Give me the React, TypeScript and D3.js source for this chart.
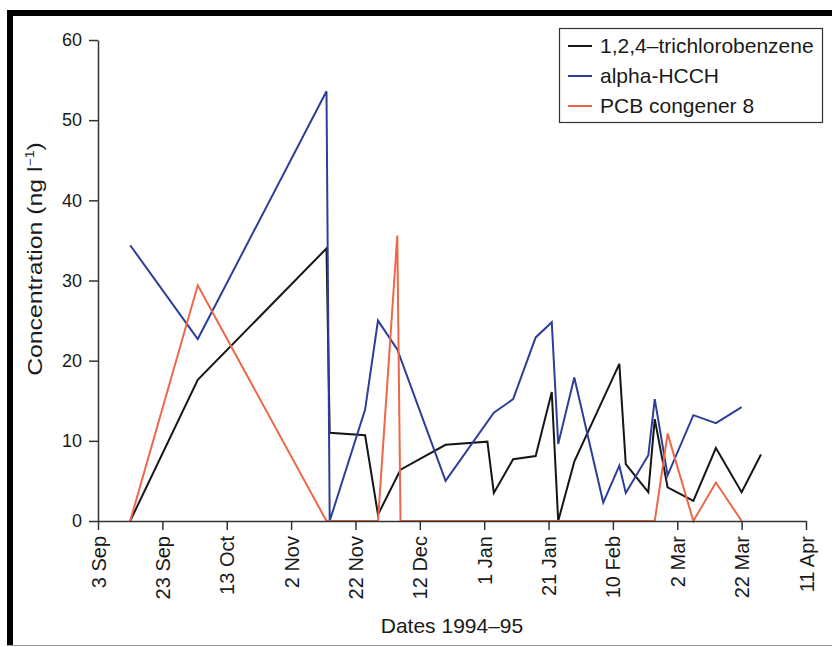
import React, { useRef, useEffect } from 'react';
import * as d3 from 'd3';

// ---------------------------------------------------------
// data: [sampling date, concentration ng/l]
// ---------------------------------------------------------
const trichlorobenzene: [string, number][] = [
  ['1994-09-13', 0], ['1994-10-04', 17.6], ['1994-11-13', 34.0], ['1994-11-14', 11.0],
  ['1994-11-25', 10.7], ['1994-11-29', 0.8], ['1994-12-06', 6.4], ['1994-12-20', 9.5],
  ['1995-01-02', 9.9], ['1995-01-04', 3.5], ['1995-01-10', 7.7], ['1995-01-17', 8.1],
  ['1995-01-22', 16.1], ['1995-01-24', 0], ['1995-01-29', 7.4], ['1995-02-12', 19.6],
  ['1995-02-14', 7.1], ['1995-02-21', 3.6], ['1995-02-23', 12.7], ['1995-02-27', 4.2],
  ['1995-03-07', 2.5], ['1995-03-14', 9.1], ['1995-03-22', 3.6], ['1995-03-28', 8.3],
];

const alphaHCCH: [string, number][] = [
  ['1994-09-13', 34.4], ['1994-10-04', 22.7], ['1994-11-13', 53.6], ['1994-11-14', 0],
  ['1994-11-25', 13.9], ['1994-11-29', 25.0], ['1994-12-05', 21.4], ['1994-12-20', 5.0],
  ['1995-01-04', 13.5], ['1995-01-10', 15.2], ['1995-01-17', 22.9], ['1995-01-22', 24.8],
  ['1995-01-24', 9.6], ['1995-01-29', 17.9], ['1995-02-07', 2.3], ['1995-02-12', 6.9],
  ['1995-02-14', 3.5], ['1995-02-21', 8.2], ['1995-02-23', 15.2], ['1995-02-27', 5.7],
  ['1995-03-07', 13.2], ['1995-03-14', 12.2], ['1995-03-22', 14.2],
];

const pcbCongener8: [string, number][] = [
  ['1994-09-13', 0], ['1994-10-04', 29.4], ['1994-11-13', 0], ['1994-11-14', 0],
  ['1994-11-25', 0], ['1994-11-29', 0], ['1994-12-05', 35.6], ['1994-12-06', 0],
  ['1994-12-20', 0], ['1995-01-04', 0], ['1995-01-24', 0], ['1995-02-14', 0],
  ['1995-02-23', 0], ['1995-02-27', 10.9], ['1995-03-07', 0], ['1995-03-14', 4.8],
  ['1995-03-22', 0],
];

const seriesNames = ['1,2,4\u2013trichlorobenzene', 'alpha-HCCH', 'PCB congener 8'];
const yTicks = [0, 10, 20, 30, 40, 50, 60];
const xTickDates = [
  '1994-09-03', '1994-09-23', '1994-10-13', '1994-11-02', '1994-11-22', '1994-12-12',
  '1995-01-01', '1995-01-21', '1995-02-10', '1995-03-02', '1995-03-22', '1995-04-11',
];

const colors = ['#161616', '#2c3f98', '#ee6748'];
const FONT = '"Liberation Sans", Arial, Helvetica, sans-serif';

function App() {
  const xAxisRef = useRef<SVGGElement>(null);
  const yAxisRef = useRef<SVGGElement>(null);

  const parse = d3.utcParse('%Y-%m-%d');
  const fmt = d3.utcFormat('%-d %b');

  const x = d3.scaleUtc()
    .domain([parse(xTickDates[0])!, parse(xTickDates[xTickDates.length - 1])!])
    .range([98, 806]);
  const y = d3.scaleLinear().domain([0, 60]).range([521, 40]);

  const line = d3.line<[string, number]>()
    .x(d => x(parse(d[0])!))
    .y(d => y(d[1]));

  const series = [trichlorobenzene, alphaHCCH, pcbCongener8];

  useEffect(() => {
    // x axis, rotated labels
    const gx = d3.select(xAxisRef.current!);
    gx.selectAll('*').remove();
    gx.call(
      d3.axisBottom(x)
        .tickValues(xTickDates.map(s => parse(s)!))
        .tickFormat(d => fmt(d as Date))
        .tickSize(9)
        .tickSizeOuter(0)
    );
    gx.attr('font-family', FONT).attr('font-size', 20);
    gx.selectAll('path, line').attr('stroke', '#333').attr('stroke-width', 1.5);
    gx.selectAll('text')
      .attr('fill', '#1a1a1a')
      .attr('transform', 'rotate(-90)')
      .attr('text-anchor', 'end')
      .attr('x', -15)
      .attr('y', 0)
      .attr('dy', '0.35em');

    // y axis
    const gy = d3.select(yAxisRef.current!);
    gy.selectAll('*').remove();
    gy.call(
      d3.axisLeft(y)
        .tickValues(yTicks)
        .tickSize(9)
        .tickSizeOuter(0)
        .tickPadding(7)
    );
    gy.attr('font-family', FONT).attr('font-size', 18);
    gy.selectAll('path, line').attr('stroke', '#333').attr('stroke-width', 1.5);
    gy.selectAll('text').attr('fill', '#1a1a1a');
  });

  return (
    <svg width={832} height={647}
      style={{ position: 'absolute', left: 0, top: 0, background: '#fff' }}
      fontFamily={FONT}>
      {/* outer frame */}
      <rect x={7} y={10} width={6} height={636} fill="#000" />
      <rect x={7} y={10} width={825} height={6} fill="#000" />
      <line x1={7} x2={832} y1={645.5} y2={645.5} stroke="#999" strokeWidth={1} />

      {series.map((s, i) => (
        <path key={i} d={line(s) || ''} fill="none" stroke={colors[i]}
          strokeWidth={2} strokeLinejoin="miter" />
      ))}

      <g ref={xAxisRef} transform="translate(0,521)" />
      <g ref={yAxisRef} transform="translate(98,0)" />

      <text x={452} y={633} textAnchor="middle" fontSize={21} fill="#1a1a1a">
        Dates 1994–95
      </text>
      <text transform="translate(42,259) rotate(-90) scale(1.18,1)" textAnchor="middle"
        fontSize={21} fill="#1a1a1a">
        Concentration (ng l<tspan dy={-8} fontSize={12}>−1</tspan><tspan dy={8}>)</tspan>
      </text>

      {/* legend */}
      <rect x={559.5} y={28.5} width={263} height={94} fill="#fff" stroke="#333" strokeWidth={1.2} />
      {seriesNames.map((name, i) => (
        <g key={name} transform={`translate(0,${46 + i * 30})`}>
          <line x1={568} x2={592} y1={0} y2={0} stroke={colors[i]} strokeWidth={2} />
          <text x={600} y={0} dy="0.35em" fontSize={21} fill="#1a1a1a">{name}</text>
        </g>
      ))}
    </svg>
  );
}

export default App;
